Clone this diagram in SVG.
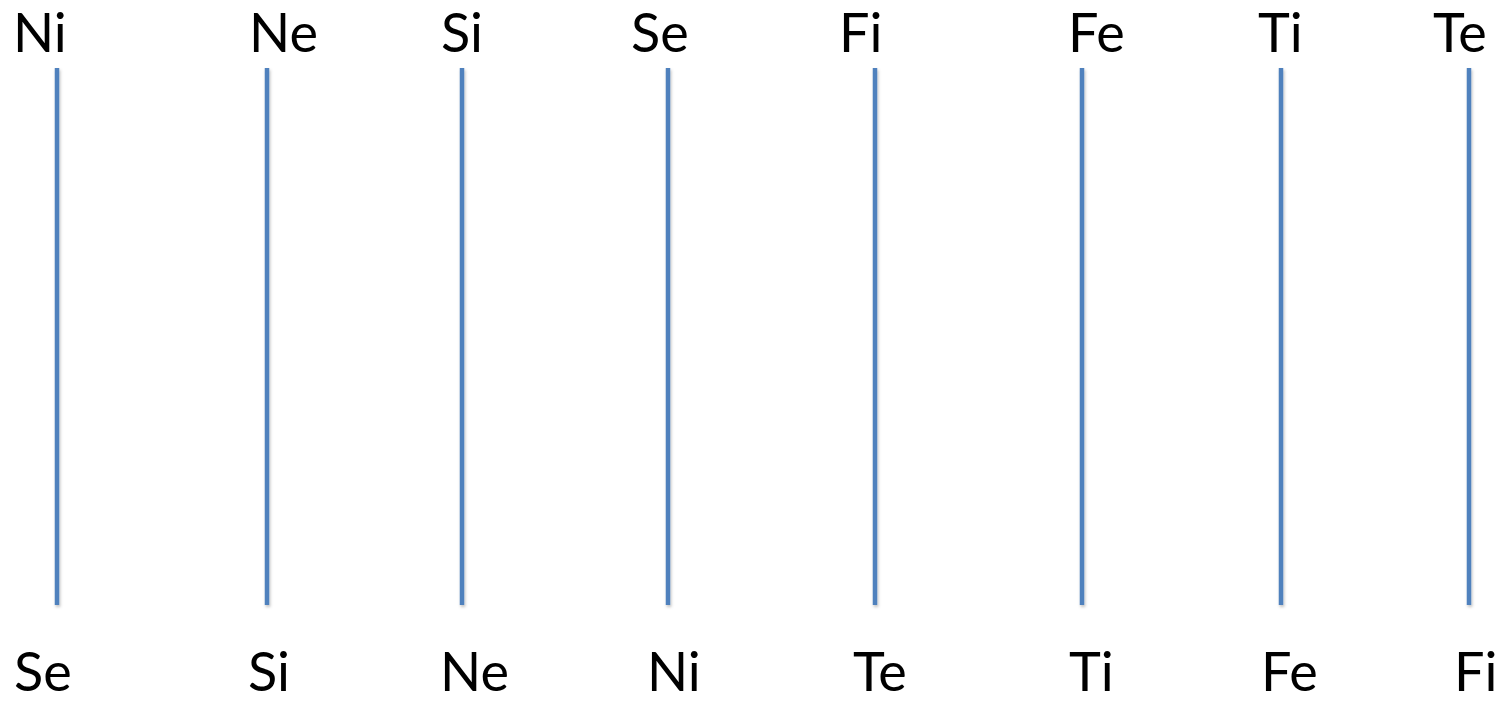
<svg xmlns="http://www.w3.org/2000/svg" width="1503" height="703" viewBox="0 0 1503 703">
<style>
.l{font-family:Lato,"Open Sans","Liberation Sans",sans-serif;font-size:54px;fill:#000}
.c{stroke:#4F81BD;stroke-width:4.5;fill:none}
</style>
<defs>
<filter id="sh" x="-50%" y="-5%" width="200%" height="110%">
<feDropShadow dx="1" dy="2" stdDeviation="1.5" flood-color="#000" flood-opacity="0.25"/>
</filter>
</defs>
<rect width="1503" height="703" fill="#fff"/>
<g id="connectors" filter="url(#sh)">
<line class="c" x1="57" y1="68" x2="57" y2="605"/>
<line class="c" x1="267" y1="68" x2="267" y2="605"/>
<line class="c" x1="462" y1="68" x2="462" y2="605"/>
<line class="c" x1="668" y1="68" x2="668" y2="605"/>
<line class="c" x1="875" y1="68" x2="875" y2="605"/>
<line class="c" x1="1082" y1="68" x2="1082" y2="605"/>
<line class="c" x1="1281" y1="68" x2="1281" y2="605"/>
<line class="c" x1="1469" y1="68" x2="1469" y2="605"/>
</g>
<g id="top-Ni"><text class="l" x="13" y="52">Ni</text></g>
<g id="top-Ne"><text class="l" x="249" y="52">Ne</text></g>
<g id="top-Si"><text class="l" x="441" y="52">Si</text></g>
<g id="top-Se"><text class="l" x="631" y="52">Se</text></g>
<g id="top-Fi"><text class="l" x="839" y="52">Fi</text></g>
<g id="top-Fe"><text class="l" x="1068" y="52">Fe</text></g>
<g id="top-Ti"><text class="l" x="1258" y="52">Ti</text></g>
<g id="top-Te"><text class="l" x="1433" y="52">Te</text></g>
<g id="bot-Se"><text class="l" x="14" y="691">Se</text></g>
<g id="bot-Si"><text class="l" x="248" y="691">Si</text></g>
<g id="bot-Ne"><text class="l" x="440" y="691">Ne</text></g>
<g id="bot-Ni"><text class="l" x="647" y="691">Ni</text></g>
<g id="bot-Te"><text class="l" x="853" y="691">Te</text></g>
<g id="bot-Ti"><text class="l" x="1069" y="691">Ti</text></g>
<g id="bot-Fe"><text class="l" x="1261" y="691">Fe</text></g>
<g id="bot-Fi"><text class="l" x="1454" y="691">Fi</text></g>
</svg>
